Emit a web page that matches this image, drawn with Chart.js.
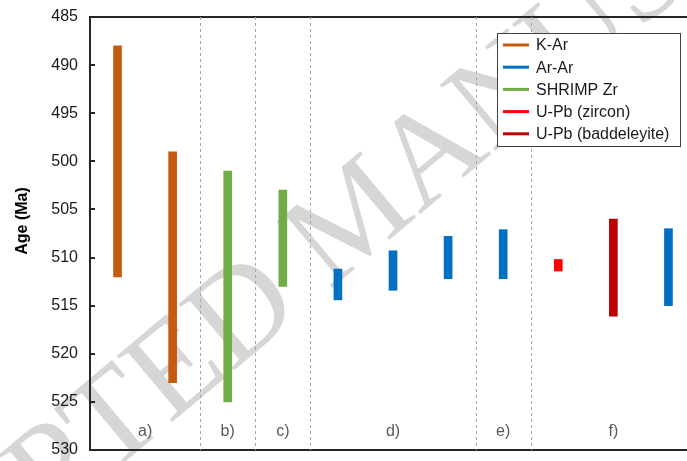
<!DOCTYPE html>
<html><head><meta charset="utf-8">
<script src="https://cdn.jsdelivr.net/npm/chart.js@4/dist/chart.umd.min.js"></script>
<style>
html,body{margin:0;padding:0;background:#fff;overflow:hidden}
#wrap{width:687px;height:461px;overflow:hidden;position:relative;background:#fff}
canvas{display:block}
</style></head><body>
<div id="wrap"><canvas id="c" width="696" height="461"></canvas></div>
<script>
// ---- data ----
const categories = ['a1','a2','b1','c1','d1','d2','d3','e1','f1','f2','f3'];
const kAr      = [[488,512],[499,523],null,null,null,null,null,null,null,null,null];
const arAr     = [null,null,null,null,[511.2,514.4],[509.3,513.4],[507.8,512.2],[507.1,512.2],null,null,[507,515]];
const shrimpZr = [null,null,[501,525],[503,513],null,null,null,null,null,null,null];
const upbZircon= [null,null,null,null,null,null,null,null,[510.2,511.4],null,null];
const upbBadd  = [null,null,null,null,null,null,null,null,null,[506,516.1],null];
const seriesNames  = ['K-Ar','Ar-Ar','SHRIMP Zr','U-Pb (zircon)','U-Pb (baddeleyite)'];
const seriesColors = ['#C55A11','#0070C0','#70AD47','#FF0000','#C00000'];
const yMin = 485, yMax = 530, yStep = 5;
const groupLabels = ['a)','b)','c)','d)','e)','f)'];
const groupFirst  = [0,2,3,4,7,8];
const groupLast   = [1,2,3,6,7,10];
const separatorsAfter = [1,2,3,6,7];
const yTitle = 'Age (Ma)';
const watermarkText = 'ACCEPTED MANUSCRIPT';

const seriesData = [kAr, arAr, shrimpZr, upbZircon, upbBadd];

const FONT = '"Liberation Sans", Arial, sans-serif';
const AXIS = '#262626';

const decorPlugin = {
  id: 'decor',
  beforeDraw(chart) {
    const ctx = chart.ctx;
    ctx.save();
    ctx.font = '132px "Liberation Serif", serif';
    ctx.fillStyle = '#d6d6d6';
    const pre = ctx.measureText('ACCEPTED ').width + ctx.measureText('M').width / 2;
    ctx.translate(352, 226);
    ctx.rotate(-40 * Math.PI / 180);
    ctx.textBaseline = 'middle';
    ctx.textAlign = 'left';
    ctx.fillText(watermarkText, -pre, 0);
    ctx.restore();
  },
  beforeDatasetsDraw(chart) {
    const {ctx, chartArea: a, scales: {x}} = chart;
    ctx.save();
    ctx.strokeStyle = '#A6A6A6';
    ctx.lineWidth = 1;
    ctx.setLineDash([3, 3]);
    separatorsAfter.forEach(i => {
      const px = Math.round((x.getPixelForValue(i) + x.getPixelForValue(i + 1)) / 2) + 0.5;
      ctx.beginPath();
      ctx.moveTo(px, a.top);
      ctx.lineTo(px, a.bottom);
      ctx.stroke();
    });
    ctx.restore();
  },
  afterDraw(chart) {
    const {ctx, chartArea: a, scales: {x, y}} = chart;
    ctx.save();
    // inward tick marks
    ctx.strokeStyle = AXIS;
    ctx.lineWidth = 2;
    for (let v = yMin; v <= yMax; v += yStep) {
      const py = Math.round(y.getPixelForValue(v));
      ctx.beginPath();
      ctx.moveTo(a.left, py);
      ctx.lineTo(a.left + 5, py);
      ctx.stroke();
    }
    // group labels
    ctx.fillStyle = '#595959';
    ctx.font = '16px ' + FONT;
    ctx.textAlign = 'center';
    ctx.textBaseline = 'middle';
    groupLabels.forEach((g, k) => {
      const cx = (x.getPixelForValue(groupFirst[k]) + x.getPixelForValue(groupLast[k])) / 2;
      ctx.fillText(g, cx, a.bottom - 18);
    });
    // y title
    ctx.save();
    ctx.translate(23, 221);
    ctx.rotate(-Math.PI / 2);
    ctx.fillStyle = '#000';
    ctx.font = 'bold 16px ' + FONT;
    ctx.fillText(yTitle, 0, 0);
    ctx.restore();
    // legend
    const bx = 497, by = 33, bw = 183, bh = 113;
    ctx.fillStyle = '#fff';
    ctx.fillRect(bx, by, bw, bh);
    ctx.strokeStyle = '#404040';
    ctx.lineWidth = 1;
    ctx.strokeRect(bx + 0.5, by + 0.5, bw, bh);
    ctx.font = '16px ' + FONT;
    ctx.textAlign = 'left';
    ctx.textBaseline = 'middle';
    seriesNames.forEach((n, i) => {
      const ly = 45 + i * 22.2;
      ctx.strokeStyle = seriesColors[i];
      ctx.lineWidth = 3;
      ctx.beginPath();
      ctx.moveTo(503, ly);
      ctx.lineTo(529, ly);
      ctx.stroke();
      ctx.fillStyle = '#1a1a1a';
      ctx.fillText(n, 536, ly + 1);
    });
    ctx.restore();
  }
};

new Chart(document.getElementById('c'), {
  type: 'bar',
  data: {
    labels: categories,
    datasets: seriesNames.map((n, i) => ({
      label: n,
      data: seriesData[i],
      backgroundColor: seriesColors[i],
      borderWidth: 0,
      barThickness: 8,
      grouped: false
    }))
  },
  options: {
    responsive: false,
    animation: false,
    devicePixelRatio: 1,
    layout: { padding: { top: 17, bottom: 11, left: 0, right: 0 } },
    plugins: { legend: { display: false }, tooltip: { enabled: false } },
    scales: {
      x: {
        type: 'category',
        position: 'bottom',
        offset: true,
        grid: { display: false, drawTicks: false },
        border: { display: true, color: AXIS, width: 2 },
        ticks: { display: false },
        afterFit(s) { s.height = 0; }
      },
      x2: {
        type: 'category',
        position: 'top',
        offset: true,
        grid: { display: false, drawTicks: false },
        border: { display: true, color: AXIS, width: 2 },
        ticks: { display: false },
        afterFit(s) { s.height = 0; }
      },
      y: {
        type: 'linear',
        position: 'left',
        reverse: true,
        min: yMin,
        max: yMax,
        grid: { display: false, drawTicks: false },
        border: { display: true, color: AXIS, width: 2 },
        ticks: { stepSize: yStep, padding: 12, color: '#1a1a1a', font: { family: FONT, size: 16 } },
        title: { display: false },
        afterFit(s) { s.width = 90; s.paddingTop = 0; s.paddingBottom = 0; }
      }
    }
  },
  plugins: [decorPlugin]
});
</script>
</body></html>
